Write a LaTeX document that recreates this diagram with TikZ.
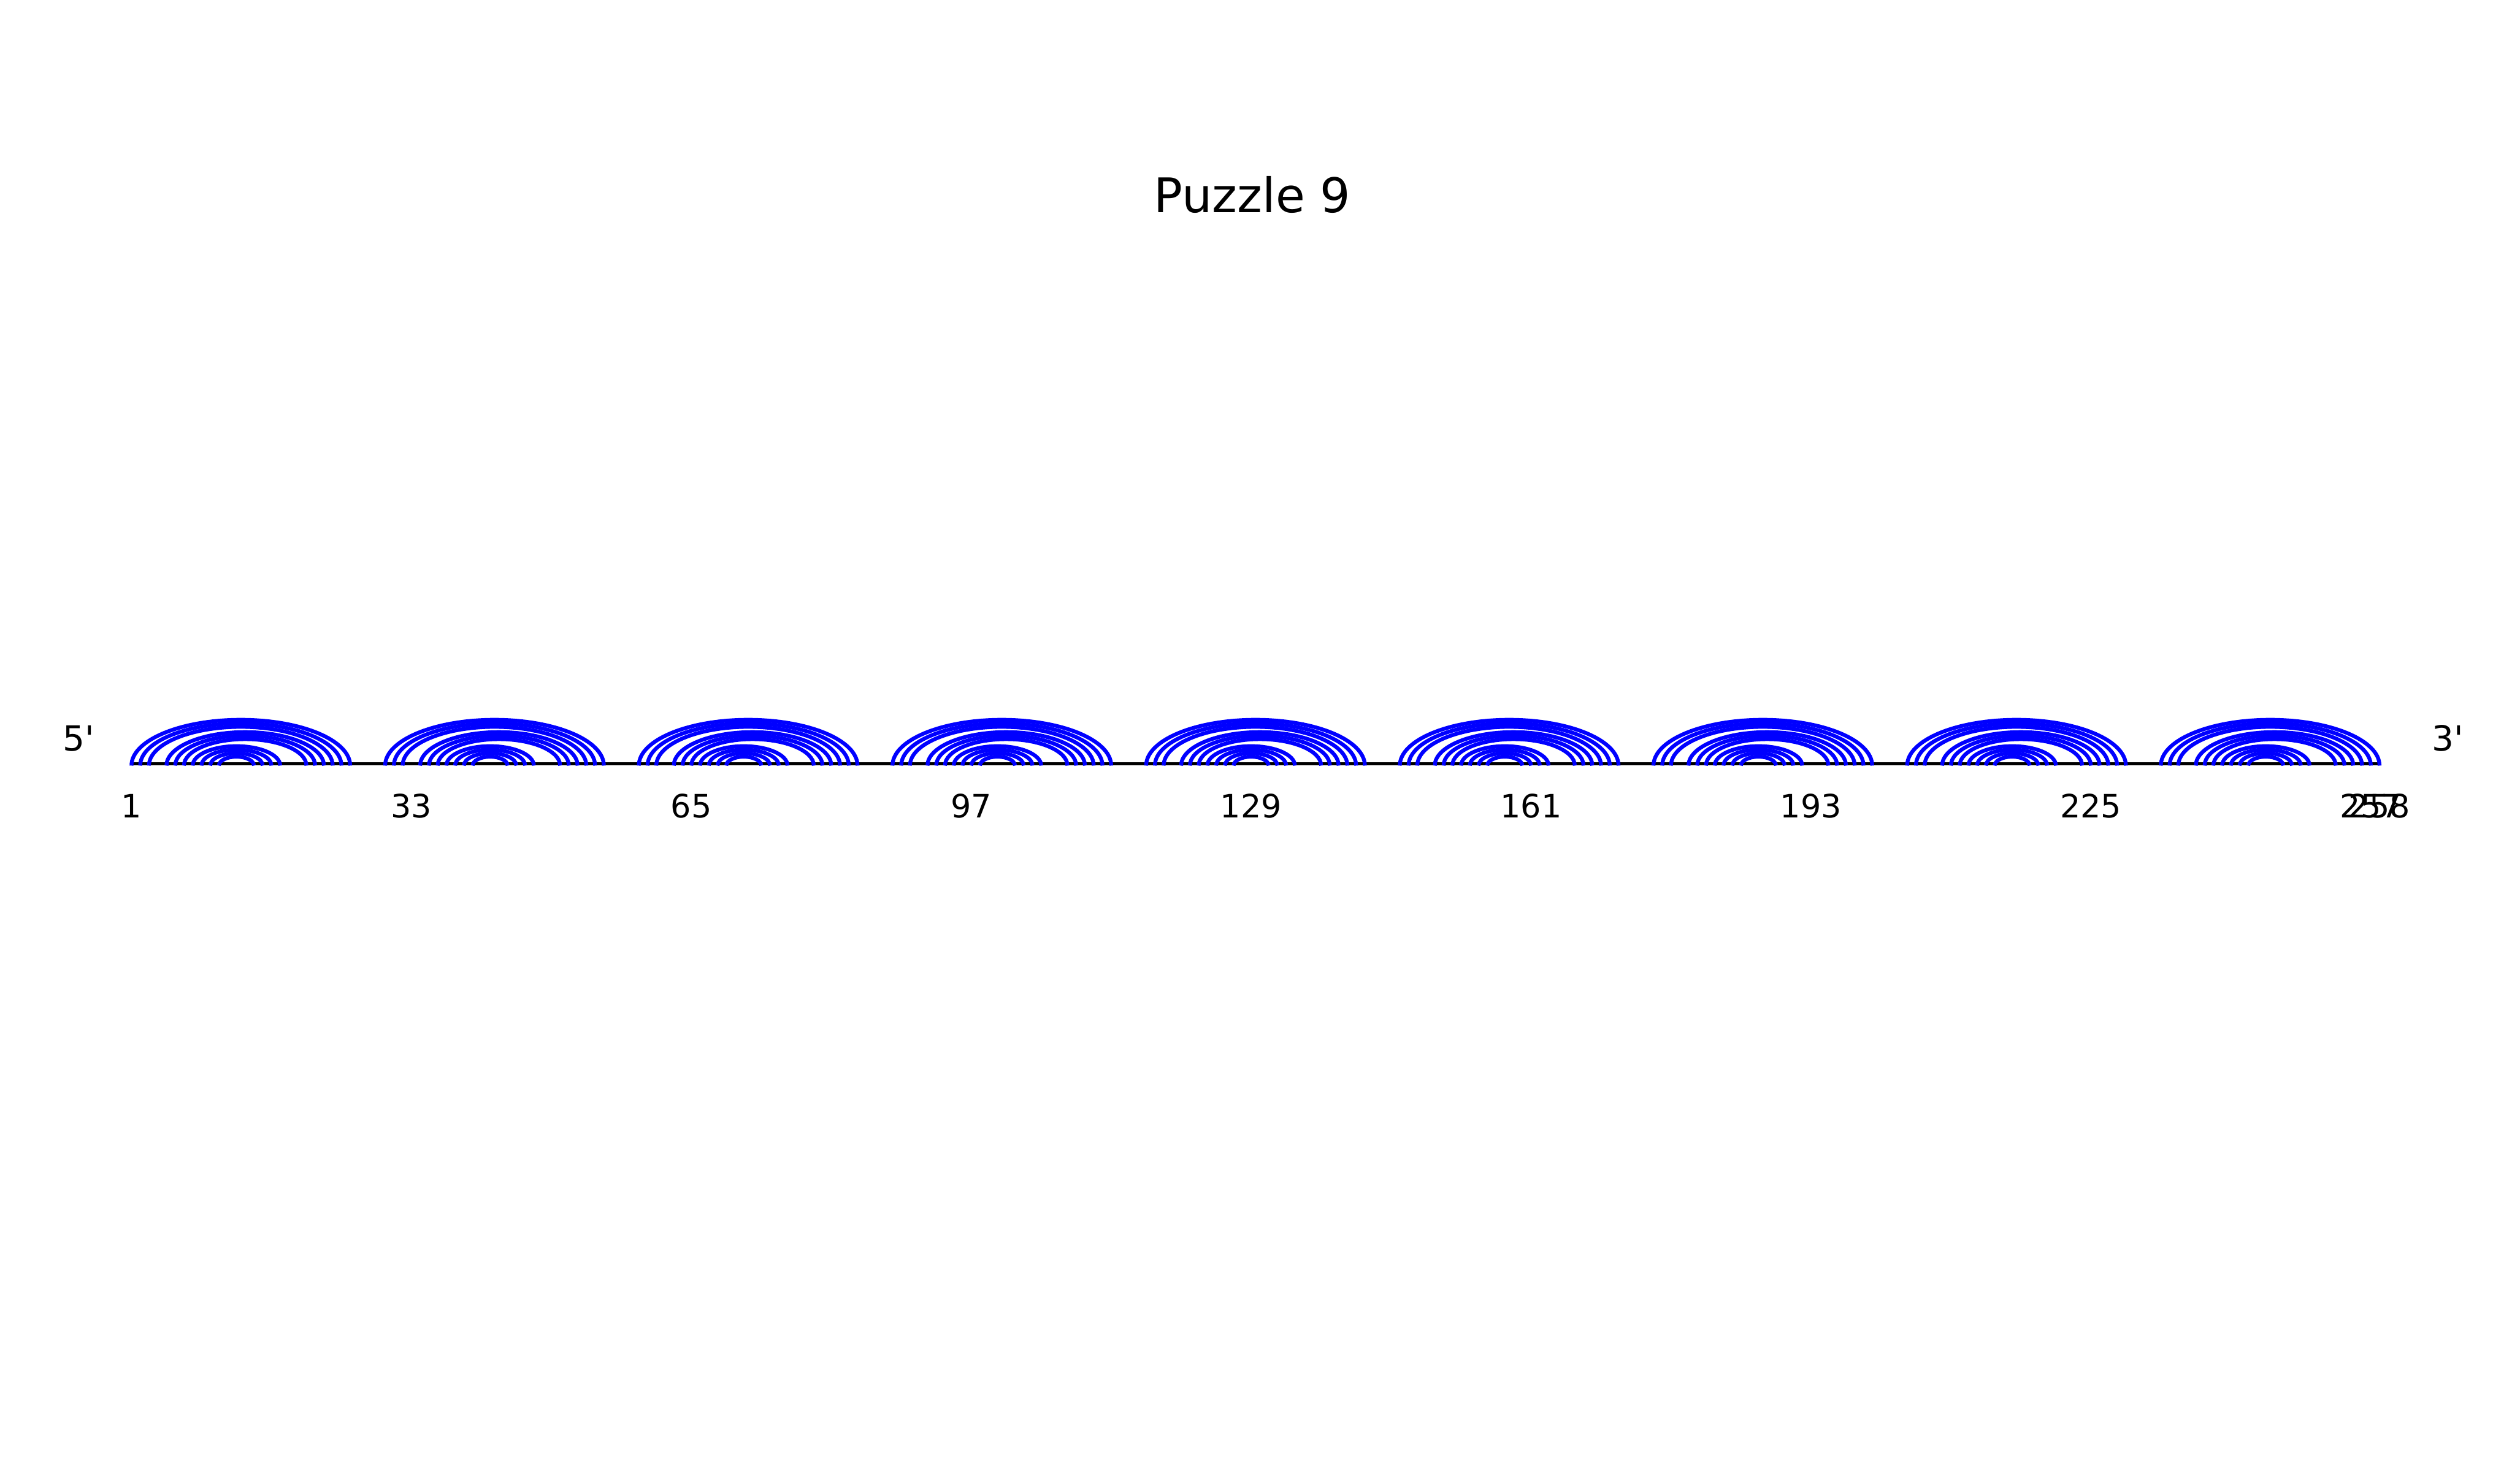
\documentclass[tikz,border=0pt]{standalone}
\usepackage{fontspec}
\setmainfont{DejaVu Sans}
\newfontfamily\plainfont{DejaVu Sans}
\begin{document}
\begin{tikzpicture}[
  bp/.style={draw=blue, line width=0.082cm},
  backbone/.style={draw=black, line width=0.073cm},
  ticklab/.style={anchor=base, inner sep=0pt, font=\fontsize{19.5pt}{23pt}\selectfont},
  endlab/.style={anchor=base, inner sep=0pt, font=\plainfont\fontsize{21pt}{25pt}\selectfont},
  titlelab/.style={anchor=base, inner sep=0pt, font=\fontsize{28.9pt}{34pt}\selectfont}]
\useasboundingbox (0,0) rectangle (53.5,31.6);
% positions of the 258 nucleotides
\foreach \p in {1,...,258}{
  \pgfmathsetmacro{\xx}{2.80+(\p-1)*0.1863}
  \coordinate (p\p) at (\xx,15.293);
}
% backbone
\draw[backbone] ([yshift=0.037cm]p1) -- ([yshift=0.037cm]p258);
% base-pair arcs
\foreach \k in {0,...,8}{
  \foreach \a/\b in {1/26,2/25,3/24,5/23,6/22,7/21,8/18,9/17,10/16,11/15}{
    \pgfmathtruncatemacro{\i}{\a+29*\k}
    \pgfmathtruncatemacro{\j}{\b+29*\k}
    \pgfmathsetmacro{\rx}{(\j-\i)*0.09315}
    \pgfmathsetmacro{\ry}{0.04+(\j-\i)*0.0374}
    \draw[bp] (p\i) arc[start angle=180, end angle=0, x radius=\rx cm, y radius=\ry cm];
  }
}
% tick labels
\foreach \p in {1,33,65,97,129,161,193,225,257,258}{
  \pgfmathsetmacro{\xx}{2.80+(\p-1)*0.1863}
  \node[ticklab] (t\p) at (\xx,14.18) {\p};
}
% ends
\node[endlab] (five) at (1.675,15.60) {5'};
\node[endlab] (three) at (52.13,15.60) {3'};
% title
\node[titlelab] (title) at (26.67,27.077) {Puzzle 9};
\end{tikzpicture}
\end{document}
